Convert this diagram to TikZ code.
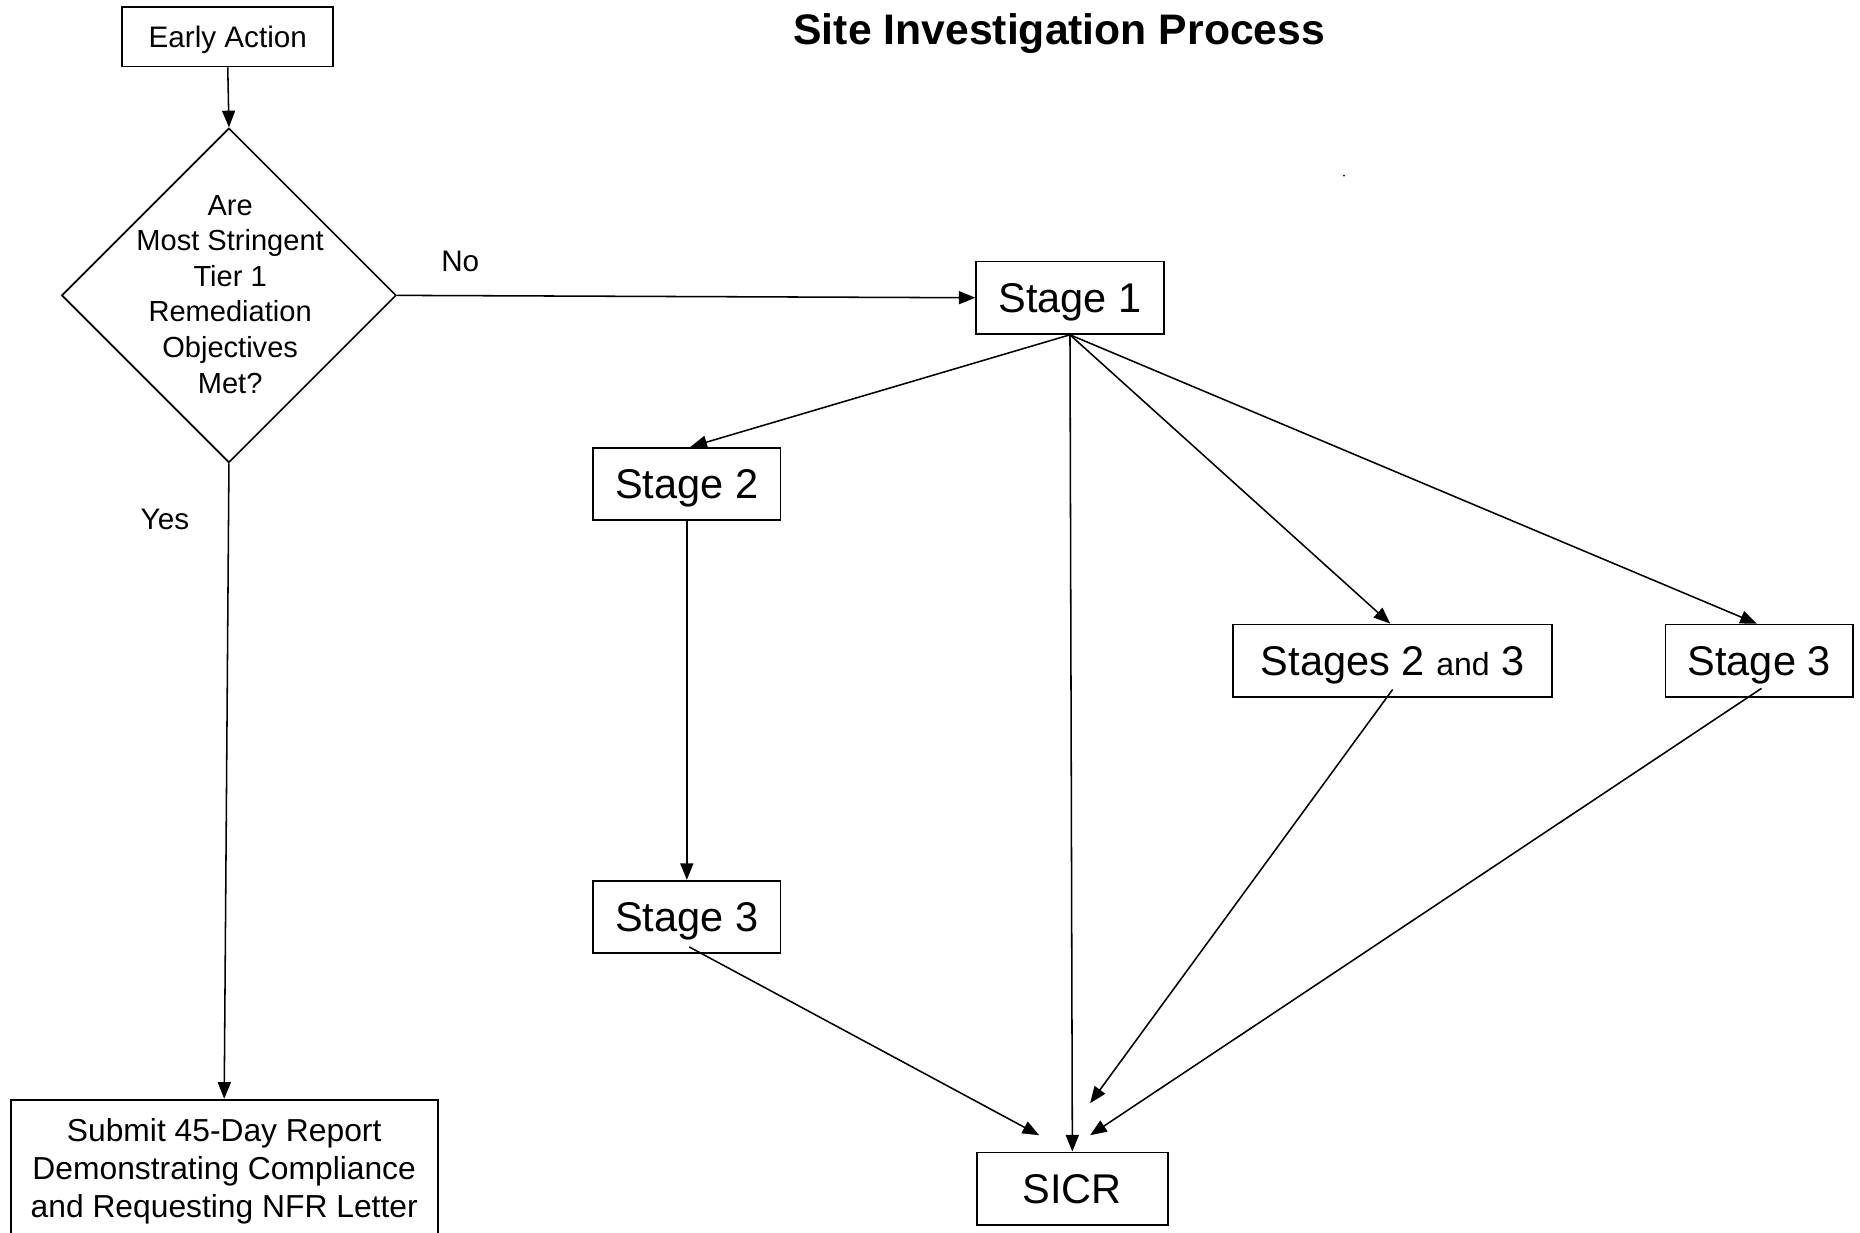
\documentclass[tikz,border=0pt]{standalone}
\usepackage{fontspec}
\setmainfont{Liberation Sans}
\usetikzlibrary{shapes.geometric,arrows.meta}
\tikzset{
  box/.style={draw, line width=1.5pt, inner sep=0pt, minimum height=61pt, minimum width=158pt},
  capc/.style={text height=#1, text depth=0pt},
  smallfont/.style={font=\fontsize{25}{30}\selectfont, capc=17.9pt},
  bigfont/.style={font=\fontsize{35}{42}\selectfont, capc=25.1pt},
  arr/.style={-{Triangle[length=14pt,width=11pt]}, line width=1.3pt},
}
\begin{document}
\begin{tikzpicture}[x=1pt,y=-1pt]
\useasboundingbox (0,0) rectangle (1568,1039);

\node[font=\bfseries\fontsize{36}{42}\selectfont, capc=25.8pt] (title) at (893,25) {Site Investigation Process};
\fill (1133,148) circle (0.8pt);

\node[box, smallfont, minimum width=178pt, minimum height=50pt] (early) at (192,31) {Early Action};
\node[draw, diamond, line width=1.4pt, minimum width=282pt, minimum height=282pt, inner sep=0pt] (dec) at (193,249) {};
\node[align=center, font=\fontsize{24.5}{30}\selectfont] (dectext) at (194,248) {Are\\Most Stringent\\Tier 1\\Remediation\\Objectives\\Met?};
\node[smallfont] (no) at (388,220) {No};
\node[smallfont] (yes) at (139,437) {Yes};

\node[box, align=center, font=\fontsize{26.8}{32}\selectfont, minimum width=360pt, minimum height=120pt] (submit) at (189,987) {Submit 45-Day Report\\Demonstrating Compliance\\and Requesting NFR Letter};

\node[box, bigfont] (s1) at (902,251) {Stage 1};
\node[box, bigfont] (s2) at (579,408) {Stage 2};
\node[box, bigfont] (s3a) at (579,773) {Stage 3};
\node[box, bigfont, minimum width=269pt] (s23) at (1174,557) {Stages 2 {\fontsize{27}{32}\selectfont and} 3};
\node[box, bigfont] (s3b) at (1483,557) {Stage 3};
\node[box, bigfont, minimum width=161pt] (sicr) at (904,1002) {SICR};

\coordinate (ta) at (876,957);
\coordinate (tb) at (919,930);
\coordinate (tc) at (919,957);

\draw[arr] (early.south) -- (dec.north);
\draw[arr] (dec.east) -- (s1.west);
\draw[arr] (dec.south) -- (submit.north);
\draw[arr] (s1.south) -- ([xshift=3pt]s2.north);
\draw[arr] (s1.south) -- (sicr.north);
\draw[arr] (s1.south) -- ([xshift=-2pt]s23.north);
\draw[arr] (s1.south) -- ([xshift=-2pt]s3b.north);
\draw[arr] (s2.south) -- (s3a.north);
\draw[arr] ([shift={(2pt,6pt)}]s3a.south) -- (ta);
\draw[arr] ([yshift=7pt]s23.south) -- (tb);
\draw[arr] ([shift={(2pt,8pt)}]s3b.south) -- (tc);
\end{tikzpicture}
\end{document}
